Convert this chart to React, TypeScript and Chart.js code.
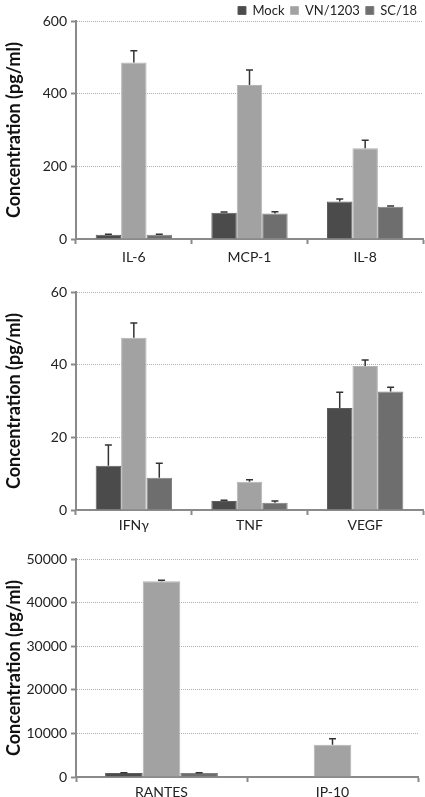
import React, { useEffect, useRef } from "react";
import { Chart, registerables } from "chart.js";
Chart.register(...registerables);

const seriesNames = ["Mock", "VN/1203", "SC/18"];
const seriesColors = ["#4b4b4b", "#a2a2a2", "#6e6e6e"];
const seriesBorders = ["#5e5e5e", "#b4b4b4", "#808080"];

const cats1 = ["IL-6", "MCP-1", "IL-8"];
const mock1 = [12, 72, 103];
const vn1 = [486, 424, 250];
const sc1 = [12, 70, 89];
const mockErr1 = [1, 2, 7];
const vnErr1 = [32, 41, 22];
const scErr1 = [1, 5, 2];
const yMax1 = 600;
const yStep1 = 200;

const cats2 = ["IFNγ", "TNF", "VEGF"];
const mock2 = [12.2, 2.5, 28.1];
const vn2 = [47.4, 7.8, 39.6];
const sc2 = [8.9, 2.0, 32.6];
const mockErr2 = [5.7, 0.2, 4.3];
const vnErr2 = [4.1, 0.5, 1.7];
const scErr2 = [4.0, 0.5, 1.2];
const yMax2 = 60;
const yStep2 = 20;

const cats3 = ["RANTES", "IP-10"];
const mock3 = [900, 0];
const vn3 = [44900, 7400];
const sc3 = [900, 0];
const mockErr3 = [100, 0];
const vnErr3 = [250, 1400];
const scErr3 = [100, 0];
const yMax3 = 50000;
const yStep3 = 10000;

const yTitle = "Concentration (pg/ml)";
const FONT = "Lato";

const errorBarPlugin = {
  id: "errorBars",
  afterDatasetsDraw(chart: any) {
    const ctx = chart.ctx;
    const yScale = chart.scales.y;
    chart.data.datasets.forEach((ds: any, i: number) => {
      const meta = chart.getDatasetMeta(i);
      meta.data.forEach((el: any, j: number) => {
        const v = ds.data[j];
        const e = ds.errors ? ds.errors[j] : 0;
        if (!e || v == null) return;
        const yTop = yScale.getPixelForValue(v + e);
        const yBase = el.y;
        ctx.save();
        ctx.strokeStyle = "#333";
        ctx.lineWidth = 1.5;
        ctx.beginPath();
        ctx.moveTo(el.x, yBase);
        ctx.lineTo(el.x, yTop);
        ctx.moveTo(el.x - 3.5, yTop);
        ctx.lineTo(el.x + 3.5, yTop);
        ctx.stroke();
        ctx.restore();
      });
    });
  },
};

// Keeps the legend compact: fixed height, drawn slightly higher, unclipped.
const compactLegendPlugin = {
  id: "compactLegend",
  beforeInit(chart: any) {
    const leg = chart.legend;
    if (!leg) return;
    const origFit = leg.fit.bind(leg);
    leg.fit = function () {
      origFit();
      this.height = 15;
    };
    const origDraw = leg.draw.bind(leg);
    leg.draw = function () {
      const ctx = chart.ctx;
      const b = this.bottom;
      this.bottom = b + 30;
      ctx.save();
      ctx.translate(0, -8);
      origDraw();
      ctx.restore();
      this.bottom = b;
    };
  },
};

type PanelProps = {
  cats: string[];
  series: number[][];
  errs: number[][];
  yMax: number;
  yStep: number;
  height: number;
  legend: boolean;
  plotTop: number;
  padRight: number;
  xHeight: number;
  xPad: number;
};

function Panel(p: PanelProps) {
  const ref = useRef<HTMLCanvasElement | null>(null);
  useEffect(() => {
    if (!ref.current) return;
    const chart = new Chart(ref.current, {
      type: "bar",
      data: {
        labels: p.cats,
        datasets: p.series.map((d, i) => ({
          label: seriesNames[i],
          data: d,
          errors: p.errs[i],
          backgroundColor: seriesColors[i],
          borderColor: seriesBorders[i],
          borderWidth: 1,
          barPercentage: 1.0,
          categoryPercentage: 0.66,
        })) as any,
      },
      options: {
        animation: false,
        responsive: false,
        maintainAspectRatio: false,
        layout: { padding: { top: 0, right: p.padRight, left: 0, bottom: 0 } },
        plugins: {
          legend: {
            display: p.legend,
            position: "top",
            align: "end",
            labels: {
              boxWidth: 8,
              boxHeight: 8,
              padding: 6,
              color: "#222",
              font: { family: FONT, size: 13 },
            },
          },
          tooltip: { enabled: false },
        },
        scales: {
          x: {
            offset: true,
            grid: {
              display: true,
              offset: true,
              drawOnChartArea: false,
              drawTicks: true,
              tickLength: 5,
              tickColor: "#8a8a8a",
              tickWidth: 2,
            },
            border: { display: true, color: "#8a8a8a", width: 2 },
            ticks: { color: "#222", font: { family: FONT, size: 14 }, padding: p.xPad },
            afterFit: (s: any) => {
              s.height = p.xHeight;
            },
          },
          y: {
            min: 0,
            max: p.yMax,
            ticks: {
              stepSize: p.yStep,
              color: "#222",
              font: { family: FONT, size: 14 },
              padding: 4,
              callback: (v: any) => String(v),
            },
            grid: {
              color: (c: any) => (c.tick && c.tick.value === 0 ? "rgba(0,0,0,0)" : "#b0b0b0"),
              lineWidth: 1,
              drawTicks: true,
              tickLength: 5,
              tickColor: "#8a8a8a",
              tickWidth: 2,
            },
            border: { display: true, color: "#8a8a8a", width: 2, dash: [1, 1] },
            title: {
              display: true,
              text: yTitle,
              color: "#111",
              font: { family: FONT, size: 18, weight: "bold" },
              padding: { top: 3, bottom: 0 },
            },
            afterFit: (s: any) => {
              s.width = 76;
              s.paddingTop = p.plotTop;
            },
          },
        },
      } as any,
      plugins: p.legend ? [errorBarPlugin, compactLegendPlugin] : [errorBarPlugin],
    });
    return () => chart.destroy();
  }, []);
  return (
    <div style={{ width: 425, height: p.height }}>
      <canvas ref={ref} width={425} height={p.height} style={{ display: "block" }} />
    </div>
  );
}

export default function App() {
  useEffect(() => {
    document.body.style.margin = "0";
    document.body.style.background = "#fff";
  }, []);
  return (
    <div style={{ width: 425, height: 797, background: "#fff" }}>
      <Panel
        cats={cats1}
        series={[mock1, vn1, sc1]}
        errs={[mockErr1, vnErr1, scErr1]}
        yMax={yMax1}
        yStep={yStep1}
        height={266}
        legend={true}
        plotTop={21}
        padRight={2}
        xHeight={27}
        xPad={5}
      />
      <Panel
        cats={cats2}
        series={[mock2, vn2, sc2]}
        errs={[mockErr2, vnErr2, scErr2]}
        yMax={yMax2}
        yStep={yStep2}
        height={266}
        legend={false}
        plotTop={26}
        padRight={2}
        xHeight={22}
        xPad={2}
      />
      <Panel
        cats={cats3}
        series={[mock3, vn3, sc3]}
        errs={[mockErr3, vnErr3, scErr3]}
        yMax={yMax3}
        yStep={yStep3}
        height={265}
        legend={false}
        plotTop={27}
        padRight={7}
        xHeight={20}
        xPad={2}
      />
    </div>
  );
}
